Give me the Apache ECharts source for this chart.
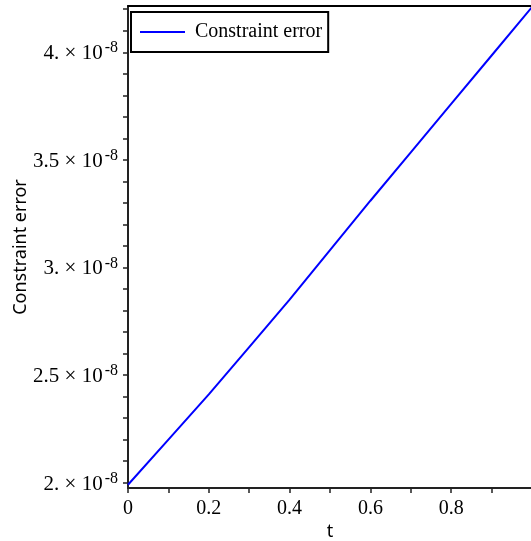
<!DOCTYPE html>
<html>
<head>
<meta charset="utf-8">
<script src="https://cdn.jsdelivr.net/npm/echarts@6/dist/echarts.min.js"></script>
<style>
  html, body { margin: 0; padding: 0; background: #fff; }
  #main { width: 531px; height: 541px; }
</style>
</head>
<body>
<div id="main"></div>
<script>
// data
var tValues = [0, 0.1, 0.2, 0.3, 0.4, 0.5, 0.6, 0.7, 0.8, 0.9, 1.0];
var errValues = [1.99e-8, 2.20e-8, 2.41e-8, 2.63e-8, 2.85e-8, 3.08e-8, 3.31e-8, 3.535e-8, 3.76e-8, 3.985e-8, 4.21e-8];
var yTickValues = [2e-8, 2.5e-8, 3e-8, 3.5e-8, 4e-8];
var yTickMant = ['2.', '2.5', '3.', '3.5', '4.'];
var yMinorValues = [2e-8, 2.1e-8, 2.2e-8, 2.3e-8, 2.4e-8, 2.5e-8, 2.6e-8, 2.7e-8, 2.8e-8, 2.9e-8, 3e-8,
  3.1e-8, 3.2e-8, 3.3e-8, 3.4e-8, 3.5e-8, 3.6e-8, 3.7e-8, 3.8e-8, 3.9e-8, 4e-8, 4.1e-8, 4.2e-8];
var xTickValues = [0, 0.2, 0.4, 0.6, 0.8];
var xMinorValues = [0, 0.1, 0.2, 0.3, 0.4, 0.5, 0.6, 0.7, 0.8, 0.9];

var myChart = echarts.init(document.getElementById('main'));

var serif = '"Liberation Serif", "Times New Roman", serif';
var axisCol = '#222';

myChart.setOption({
  animation: false,
  backgroundColor: '#fff',
  legend: {
    left: 131,
    top: 12,
    padding: [10, 6, 10, 9],
    borderColor: '#000',
    borderWidth: 2,
    itemWidth: 45,
    itemHeight: 2,
    textStyle: { fontFamily: serif, fontSize: 20, color: '#000', padding: [0, 0, 0, 5] },
    data: [{ name: 'Constraint error', icon: 'rect' }]
  },
  grid: { left: 128, top: 6, width: 404, bottom: 53, containLabel: false, outerBoundsMode: 'none' },
  xAxis: [{
    type: 'value',
    min: 0,
    max: 1,
    name: 't',
    nameLocation: 'middle',
    nameGap: 35,
    nameMoveOverlap: false,
    nameTextStyle: { fontFamily: 'Noto Sans', fontSize: 18, color: '#000' },
    axisLine: { onZero: false, lineStyle: { color: axisCol, width: 2 } },
    axisTick: { show: true, length: 5, customValues: xMinorValues, lineStyle: { color: axisCol, width: 1.5 } },
    axisLabel: {
      customValues: xTickValues,
      margin: 11,
      fontFamily: serif,
      fontSize: 20,
      color: '#000',
      formatter: function (v) { return String(Math.round(v * 10) / 10); }
    },
    splitLine: { show: false }
  }, {
    type: 'value',
    position: 'top',
    min: 0,
    max: 1,
    axisLine: { show: true, lineStyle: { color: '#000', width: 2 } },
    axisTick: { show: false },
    axisLabel: { show: false },
    splitLine: { show: false }
  }],
  yAxis: {
    type: 'value',
    min: 1.975e-8,
    max: 4.215e-8,
    name: 'Constraint error',
    nameLocation: 'middle',
    nameGap: 98,
    nameMoveOverlap: false,
    nameRotate: 90,
    nameTextStyle: { fontFamily: 'Noto Sans', fontSize: 18, color: '#000' },
    axisLine: { show: true, onZero: false, lineStyle: { color: axisCol, width: 2 } },
    axisTick: { show: true, length: 5, customValues: yMinorValues, lineStyle: { color: axisCol, width: 1.5 } },
    axisLabel: {
      customValues: yTickValues,
      margin: 10,
      color: '#000',
      formatter: function (v) {
        for (var i = 0; i < yTickValues.length; i++) {
          if (Math.abs(yTickValues[i] - v) < 1e-11) {
            return '{m|' + yTickMant[i] + ' \u00d7 10}{s|-8}';
          }
        }
        return '';
      },
      rich: {
        m: { fontFamily: serif, fontSize: 21, color: '#000', lineHeight: 24, verticalAlign: 'bottom' },
        s: { fontFamily: serif, fontSize: 16, color: '#000', lineHeight: 24, verticalAlign: 'top', padding: [0, 0, 9, 2] }
      }
    },
    splitLine: { show: false }
  },
  series: [{
    name: 'Constraint error',
    type: 'line',
    data: tValues.map(function (t, i) { return [t, errValues[i]]; }),
    showSymbol: false,
    symbol: 'none',
    smooth: false,
    clip: true,
    lineStyle: { color: '#0000ff', width: 2 },
    itemStyle: { color: '#0000ff' }
  }]
});
</script>
</body>
</html>
